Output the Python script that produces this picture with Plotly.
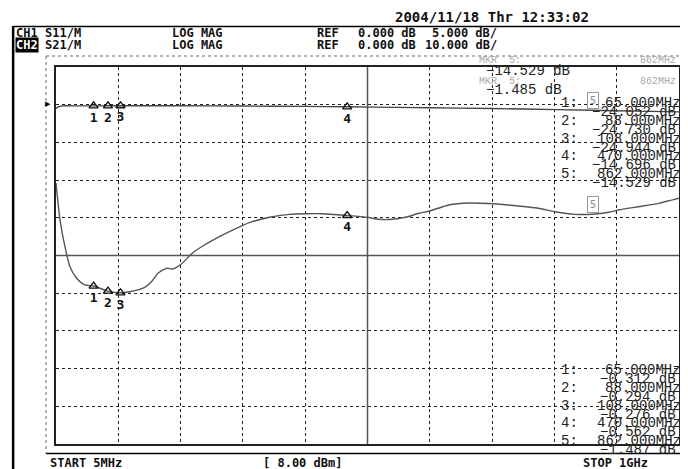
import plotly.graph_objects as go

# ---------------- data ----------------
s11_freq_mhz = [5, 11.4, 19.3, 27.3, 38.0, 50.8, 65, 88, 108, 122.8, 146.7, 157.4, 167.9, 181.2,
                191.7, 205.1, 223.6, 239.5, 260.8, 282.0, 313.8, 345.7, 377.5, 404.1, 430.1,
                470, 502.2, 520.8, 542.0, 563.3, 584.5, 603.1, 632.2, 664.1, 695.9, 727.8,
                759.6, 775.5, 802.1, 833.9, 862, 887.8, 903.7, 935.5, 967.4, 1000]
s11_db = [-10.4, -15.29, -18.83, -21.49, -23.02, -23.91, -24.052, -24.730, -24.944, -24.80,
          -24.22, -23.48, -22.36, -21.70, -21.79, -21.13, -19.63, -18.74, -17.72, -16.84,
          -15.65, -14.93, -14.54, -14.46, -14.46, -14.696, -14.93, -15.20, -15.20, -14.93,
          -14.40, -14.06, -13.30, -13.04, -13.10, -13.30, -13.57, -13.74, -14.19, -14.54,
          -14.529, -14.27, -13.97, -13.53, -13.08, -12.41]

s21_freq_mhz = [5, 8, 15, 40, 65, 88, 108, 200, 300, 400, 470, 550, 650, 750, 862, 930, 1000]
s21_db = [-1.0, -0.6, -0.3, -0.32, -0.312, -0.294, -0.276, -0.28, -0.35, -0.45, -0.562,
          -0.7, -0.9, -1.15, -1.487, -1.7, -1.9]

marker_ids = ["1", "2", "3", "4", "5"]
marker_freq_mhz = [65, 88, 108, 470, 862]
marker_freq_labels = ["65.000MHz", "88.000MHz", "108.000MHz", "470.000MHz", "862.000MHz"]
s11_marker_db = [-24.052, -24.730, -24.944, -14.696, -14.529]
s21_marker_db = [-0.312, -0.294, -0.276, -0.562, -1.487]

start_mhz, stop_mhz = 5, 1000
s11_ref_db, s11_scale = 0.0, 5.0
s21_ref_db, s21_scale = 0.0, 10.0
n_div = 10
ref_pos_div = 9  # reference line position (divisions from bottom)

header_rows = [
    ["CH1", "S11/M", "LOG MAG", "REF", "0.000 dB", "5.000 dB/"],
    ["CH2", "S21/M", "LOG MAG", "REF", "0.000 dB", "10.000 dB/"],
]
date_text = "2004/11/18 Thr 12:33:02"
footer = ["START 5MHz", "[ 8.00 dBm]", "STOP 1GHz"]

# ---------------- layout helpers ----------------
# the page body has an 8px margin, so the figure sits at (8, 8) in the window
OFF = 8
W, H = 688 - OFF, 469 - OFF
PLOT_X0, PLOT_X1, PLOT_Y0, PLOT_Y1 = 56, 681, 67, 444   # window pixels
L, R, T, B = PLOT_X0 - OFF, 688 - PLOT_X1, PLOT_Y0 - OFF, 469 - PLOT_Y1
PW, PH = PLOT_X1 - PLOT_X0, PLOT_Y1 - PLOT_Y0


def px(x):
    return (x - PLOT_X0) / PW


def py(y):
    return (PLOT_Y1 - y) / PH


s11_range = [s11_ref_db - ref_pos_div * s11_scale, s11_ref_db + (n_div - ref_pos_div) * s11_scale]
s21_range = [s21_ref_db - ref_pos_div * s21_scale, s21_ref_db + (n_div - ref_pos_div) * s21_scale]
xdiv = (stop_mhz - start_mhz) / n_div

HEAD = dict(family="DejaVu Sans Mono", size=12, color="#111")
LIST = dict(family="Liberation Mono", size=14, color="#222")

fig = go.Figure()
fig.add_trace(go.Scatter(x=s21_freq_mhz, y=s21_db, yaxis="y2", mode="lines",
                         line=dict(color="#444", width=1.4, shape="spline", smoothing=0.6),
                         hoverinfo="skip", showlegend=False))
fig.add_trace(go.Scatter(x=s11_freq_mhz, y=s11_db, mode="lines",
                         line=dict(color="#555", width=1.4, shape="spline", smoothing=0.6),
                         hoverinfo="skip", showlegend=False))

# markers 1-4 (triangles) on both traces
for yv, yr in [(s11_marker_db, "y"), (s21_marker_db, "y2")]:
    fig.add_trace(go.Scatter(x=marker_freq_mhz[:4], y=yv[:4], yaxis=yr, mode="markers+text",
                             marker=dict(symbol="triangle-up-open", size=8, color="#111",
                                         line=dict(width=1.3, color="#111")),
                             text=["<b>%s</b>" % m for m in marker_ids[:4]], textposition="bottom center",
                             textfont=dict(family="DejaVu Sans Mono", size=13, color="#111"),
                             hoverinfo="skip", showlegend=False))

ann = []
shapes = []

# active marker 5 as small box
for yv, yr in [(s11_marker_db[4], "y"), (s21_marker_db[4], "y2")]:
    ann.append(dict(x=marker_freq_mhz[4], y=yv, xref="x", yref=yr, text="5", showarrow=False,
                    yanchor="bottom", yshift=1, font=dict(family="DejaVu Sans Mono", size=10, color="#888"),
                    bordercolor="#999", borderwidth=1, borderpad=2, bgcolor="rgba(255,255,255,0)"))

# header
head_x = [15, 44, 171, 317, 358, 432]
head_x2 = [15, 44, 171, 317, 358, 425]
for r, (row, ys) in enumerate(zip(header_rows, [33, 45])):
    xs = head_x if r == 0 else head_x2
    for c, (t, x0) in enumerate(zip(row, xs)):
        inv = (r == 1 and c == 0)
        ann.append(dict(x=px(x0), y=py(ys), xref="paper", yref="paper", text="<b>%s</b>" % t,
                        showarrow=False, xanchor="left", yanchor="middle",
                        font=dict(HEAD, color="#fff" if inv else "#111"),
                        bgcolor="#000" if inv else None, borderpad=0))
ann.append(dict(x=px(395), y=py(17), xref="paper", yref="paper", text="<b>%s</b>" % date_text,
                showarrow=False, xanchor="left", yanchor="middle", borderpad=0, font=dict(HEAD, size=14)))

# footer
for t, x0 in zip(footer, [48, 262, 583]):
    ann.append(dict(x=px(x0), y=py(463), xref="paper", yref="paper", text="<b>%s</b>" % t,
                    showarrow=False, xanchor="left", yanchor="middle", font=HEAD))

# marker readout: active marker summary (top)
for yy in [61, 81]:
    ann.append(dict(x=px(478), y=py(yy), xref="paper", yref="paper", text="MKR  5:", showarrow=False,
                    xanchor="left", yanchor="middle", font=dict(LIST, size=10, color="#aaa")))
    ann.append(dict(x=px(680), y=py(yy), xref="paper", yref="paper", text="862MHz", showarrow=False,
                    xanchor="right", yanchor="middle", font=dict(LIST, size=10, color="#aaa")))
ann.append(dict(x=px(485), y=py(71), xref="paper", yref="paper", text="−%.3f dB" % abs(s11_marker_db[4]),
                showarrow=False, xanchor="left", yanchor="middle", font=LIST))
ann.append(dict(x=px(485), y=py(90), xref="paper", yref="paper", text="−1.485 dB",
                showarrow=False, xanchor="left", yanchor="middle", font=LIST))

# marker lists
for base, vals in [(103, s11_marker_db), (370, s21_marker_db)]:
    for i in range(5):
        yf = base + i * 17.8
        ann.append(dict(x=px(582), y=py(yf), xref="paper", yref="paper", text=marker_ids[i] + ":",
                        showarrow=False, xanchor="right", yanchor="middle", font=LIST))
        ann.append(dict(x=px(685), y=py(yf), xref="paper", yref="paper", text=marker_freq_labels[i],
                        showarrow=False, xanchor="right", yanchor="middle", font=LIST))
        ann.append(dict(x=px(680), y=py(yf + 9), xref="paper", yref="paper",
                        text="−%.3f dB" % abs(vals[i]),
                        showarrow=False, xanchor="right", yanchor="middle", font=LIST))

# center solid lines
shapes.append(dict(type="line", xref="x", yref="paper", x0=start_mhz + 5 * xdiv, x1=start_mhz + 5 * xdiv,
                   y0=0, y1=1, line=dict(color="#555", width=1.5)))
shapes.append(dict(type="line", xref="paper", yref="y", x0=0, x1=1,
                   y0=s11_range[0] + 5 * s11_scale, y1=s11_range[0] + 5 * s11_scale,
                   line=dict(color="#555", width=1.5)))
# screen frame
shapes.append(dict(type="line", xref="paper", yref="paper", x0=px(13), x1=px(13), y0=py(26), y1=py(469),
                   line=dict(color="#000", width=2.5)))
shapes.append(dict(type="line", xref="paper", yref="paper", x0=px(13), x1=px(688), y0=py(26.5), y1=py(26.5),
                   line=dict(color="#000", width=1.5)))
shapes.append(dict(type="line", xref="paper", yref="paper", x0=px(46), x1=px(688), y0=py(453.5), y1=py(453.5),
                   line=dict(color="#000", width=1.5)))
shapes.append(dict(type="line", xref="paper", yref="paper", x0=px(46), x1=px(688), y0=py(56), y1=py(56),
                   line=dict(color="#666", width=1, dash="dot")))
shapes.append(dict(type="line", xref="paper", yref="paper", x0=px(46), x1=px(46), y0=py(56), y1=py(453.5),
                   line=dict(color="#666", width=1, dash="dot")))
# reference position indicator
ann.append(dict(x=px(53), y=py(104.5), xref="paper", yref="paper", text="▶", showarrow=False,
                xanchor="right", yanchor="middle", font=dict(family="DejaVu Sans", size=7, color="#000")))

fig.update_layout(
    width=W, height=H, margin=dict(l=L, r=R, t=T, b=B, pad=0),
    paper_bgcolor="white", plot_bgcolor="white",
    xaxis=dict(range=[start_mhz, stop_mhz], tick0=start_mhz, dtick=xdiv, showgrid=True,
               gridcolor="#222", griddash="dot", gridwidth=1, showticklabels=False, ticks="",
               zeroline=False, showline=True, mirror=True, linecolor="#222", linewidth=1.5),
    yaxis=dict(range=s11_range, tick0=s11_range[0], dtick=s11_scale, showgrid=True,
               gridcolor="#222", griddash="dot", gridwidth=1, showticklabels=False, ticks="",
               zeroline=False, showline=True, mirror=True, linecolor="#222", linewidth=1.5),
    yaxis2=dict(range=s21_range, overlaying="y", visible=False, showgrid=False, zeroline=False),
    annotations=ann, shapes=shapes, showlegend=False,
)

fig.write_html("out.html")
